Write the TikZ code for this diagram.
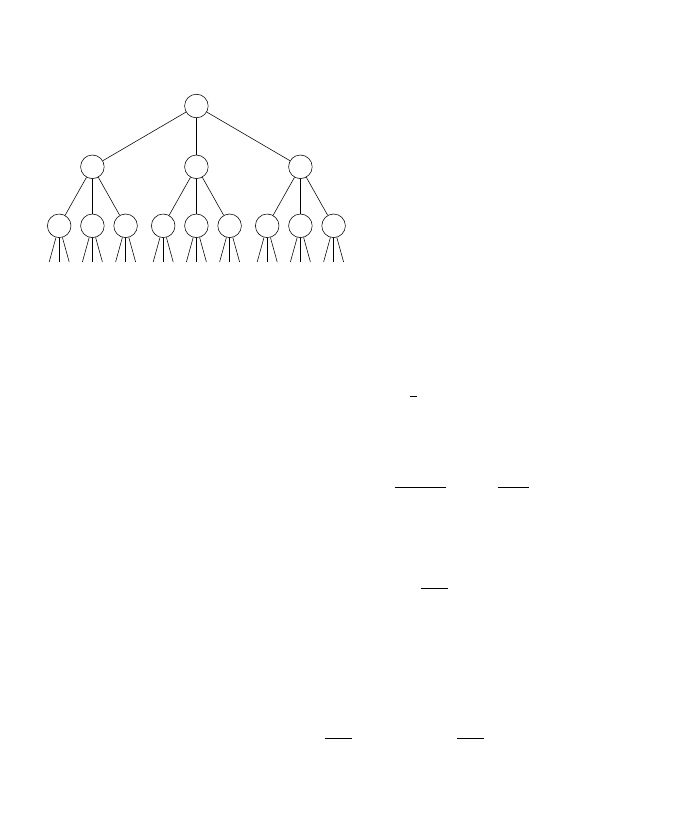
\documentclass[tikz,border=0pt]{standalone}
\usepackage{amsmath, amsfonts}
\usepackage{tikz}
\usetikzlibrary{positioning}
\usetikzlibrary{calc}
\usepackage{xcolor}

\tikzset{vtx/.style={circle, draw, minimum size=0.59cm, inner sep=0pt}}

\begin{document}
\begin{tikzpicture}
		\useasboundingbox (0cm,0cm) rectangle (16.975cm,-20.975cm);
		\draw (4.91cm,-2.65cm) node[vtx] (r1) {}
		(2.31cm, -4.17cm) node[vtx] (lc1) {}
		(4.91cm, -4.17cm) node[vtx] (mc1) {}
		(7.51cm, -4.17cm) node[vtx] (rc1) {}
		(1.48cm, -5.645cm) node[vtx] (llc1) {}
		(2.31cm, -5.645cm) node[vtx] (llc2) {}
		(3.14cm, -5.645cm) node[vtx] (llc3) {}
		(4.08cm, -5.645cm) node[vtx] (mmc1) {}
		(4.91cm, -5.645cm) node[vtx] (mmc2) {}
		(5.74cm, -5.645cm) node[vtx] (mmc3) {}
		(6.68cm, -5.645cm) node[vtx] (rrc1) {}
		(7.51cm, -5.645cm) node[vtx] (rrc2) {}
		(8.34cm, -5.645cm) node[vtx] (rrc3) {};
		
		\draw (r1) -- (lc1);
		\draw (r1) -- (mc1);
		\draw (r1) -- (rc1);
		\draw (lc1) -- (llc1);
		\draw (lc1) -- (llc2);
		\draw (lc1) -- (llc3);
		\draw (mc1) -- (mmc1);
		\draw (mc1) -- (mmc2);
		\draw (mc1) -- (mmc3);
		\draw (rc1) -- (rrc1);
		\draw (rc1) -- (rrc2);
		\draw (rc1) -- (rrc3);
		
		% open branches below the last row
		\foreach \l in {llc1, llc2, llc3, mmc1, mmc2, mmc3, rrc1, rrc2, rrc3} {
			\coordinate (\l a) at ($(\l.center)+(-0.25cm,-0.905cm)$);
			\coordinate (\l b) at ($(\l.center)+(0cm,-0.905cm)$);
			\coordinate (\l c) at ($(\l.center)+(0.25cm,-0.905cm)$);
			\draw (\l) -- (\l a);
			\draw (\l) -- (\l b);
			\draw (\l) -- (\l c);
		}
		
		% bars
		\draw (10.25cm,-9.917cm) -- (10.43cm,-9.917cm);
		\draw (9.87cm,-12.17cm) -- (11.16cm,-12.17cm);
		\draw (12.45cm,-12.17cm) -- (13.22cm,-12.17cm);
		\draw (10.53cm,-14.71cm) -- (11.19cm,-14.71cm);
		\draw (8.125cm,-18.46cm) -- (8.79cm,-18.46cm);
		\draw (11.43cm,-18.46cm) -- (12.11cm,-18.46cm);
	\end{tikzpicture}
\end{document}
